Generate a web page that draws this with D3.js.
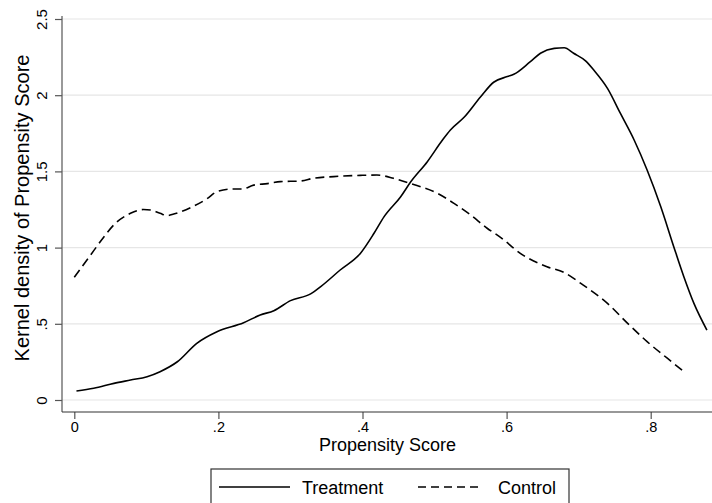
<!DOCTYPE html>
<html>
<head>
<meta charset="utf-8">
<script src="https://cdn.jsdelivr.net/npm/d3@7"></script>
<style>
  html, body { margin: 0; padding: 0; background: #fff; }
  svg { display: block; font-family: "Liberation Sans", Arial, sans-serif; }
</style>
</head>
<body>
<svg id="chart" width="712" height="503"></svg>
<script>
// ---- data ----
const treatX = [0.003,0.027,0.055,0.078,0.101,0.119,0.143,0.170,0.198,0.235,0.258,0.277,0.300,0.328,0.342,0.369,0.397,0.416,0.430,0.453,0.467,0.490,0.511,0.522,0.541,0.564,0.582,0.601,0.610,0.633,0.647,0.666,0.680,0.693,0.710,0.721,0.740,0.758,0.777,0.795,0.814,0.832,0.846,0.860,0.878];
const treatY = [0.059,0.077,0.109,0.131,0.153,0.186,0.251,0.372,0.448,0.507,0.558,0.586,0.652,0.696,0.744,0.853,0.962,1.094,1.203,1.334,1.432,1.564,1.706,1.772,1.855,1.990,2.085,2.122,2.137,2.220,2.275,2.307,2.311,2.275,2.224,2.165,2.045,1.880,1.706,1.509,1.268,1.006,0.809,0.634,0.459];
const ctrlX = [0.000,0.027,0.041,0.055,0.078,0.096,0.106,0.119,0.129,0.138,0.166,0.184,0.198,0.221,0.233,0.249,0.268,0.286,0.314,0.332,0.360,0.397,0.420,0.443,0.467,0.504,0.527,0.550,0.573,0.592,0.619,0.656,0.680,0.703,0.740,0.768,0.795,0.823,0.845];
const ctrlY = [0.805,0.980,1.070,1.150,1.225,1.250,1.247,1.225,1.210,1.220,1.273,1.320,1.367,1.385,1.385,1.410,1.420,1.433,1.437,1.455,1.466,1.474,1.476,1.455,1.420,1.356,1.290,1.214,1.127,1.066,0.962,0.875,0.836,0.765,0.634,0.503,0.383,0.274,0.190];
const xTicks = [0, 0.2, 0.4, 0.6, 0.8];
const xTickLabels = ["0", ".2", ".4", ".6", ".8"];
const yTicks = [0, 0.5, 1, 1.5, 2, 2.5];
const yTickLabels = ["0", ".5", "1", "1.5", "2", "2.5"];
const seriesNames = ["Treatment", "Control"];
const xTitle = "Propensity Score";
const yTitle = "Kernel density of Propensity Score";

// ---- layout ----
const plotLeft = 62, plotRight = 713, plotTop = 16, plotBottom = 412;
const svg = d3.select("#chart");

const x = d3.scaleLinear().domain([0, 0.8]).range([74.3, 650.7]);
const y = d3.scaleLinear().domain([0, 2.5]).range([400, 19]);

// gridlines
svg.append("g").selectAll("line").data(yTicks).join("line")
  .attr("x1", plotLeft).attr("x2", plotRight)
  .attr("y1", d => y(d)).attr("y2", d => y(d))
  .attr("stroke", "#e6e6e6").attr("stroke-width", 1.2);

// y axis
const yAxis = d3.axisLeft(y).tickValues(yTicks)
  .tickFormat((d, i) => yTickLabels[i]).tickSize(7).tickSizeOuter(0);
const gy = svg.append("g").attr("transform", `translate(${plotLeft},0)`).call(yAxis);
gy.select(".domain").remove();
gy.append("line").attr("x1", 0).attr("x2", 0).attr("y1", plotTop).attr("y2", plotBottom)
  .attr("stroke", "#555").attr("stroke-width", 1.2);
gy.selectAll(".tick line").attr("stroke", "#555").attr("stroke-width", 1.2);
gy.selectAll(".tick text")
  .attr("font-size", 15).attr("fill", "#000")
  .attr("text-anchor", "middle")
  .attr("transform", "rotate(-90)")
  .attr("x", 0).attr("dy", 0)
  .attr("y", -15);

// x axis
const xAxis = d3.axisBottom(x).tickValues(xTicks)
  .tickFormat((d, i) => xTickLabels[i]).tickSize(7).tickSizeOuter(0);
const gx = svg.append("g").attr("transform", `translate(0,${plotBottom})`).call(xAxis);
gx.select(".domain").remove();
gx.append("line").attr("x1", plotLeft).attr("x2", plotRight).attr("y1", 0).attr("y2", 0)
  .attr("stroke", "#333").attr("stroke-width", 1.2);
gx.selectAll(".tick line").attr("stroke", "#555").attr("stroke-width", 1.2);
gx.selectAll(".tick text").attr("font-size", 14.5).attr("fill", "#000").attr("y", 19.5).attr("dy", 0);

// titles
svg.append("text").attr("x", (plotLeft + plotRight) / 2).attr("y", 451)
  .attr("text-anchor", "middle").attr("font-size", 18).attr("fill", "#000").text(xTitle);
svg.append("text").attr("transform", `translate(29,208) rotate(-90)`)
  .attr("text-anchor", "middle").attr("font-size", 20).attr("fill", "#000").text(yTitle);

// lines
const line = d3.line().x(d => x(d[0])).y(d => y(d[1])).curve(d3.curveMonotoneX);
const treat = treatX.map((v, i) => [v, treatY[i]]);
const ctrl = ctrlX.map((v, i) => [v, ctrlY[i]]);
svg.append("path").datum(ctrl).attr("d", line).attr("fill", "none")
  .attr("stroke", "#000").attr("stroke-width", 1.6).attr("stroke-dasharray", "9,5");
svg.append("path").datum(treat).attr("d", line).attr("fill", "none")
  .attr("stroke", "#000").attr("stroke-width", 1.6);

// legend
const lg = svg.append("g");
lg.append("rect").attr("x", 211).attr("y", 469).attr("width", 358).attr("height", 50)
  .attr("fill", "#fff").attr("stroke", "#333").attr("stroke-width", 1.2);
lg.append("line").attr("x1", 219).attr("x2", 290).attr("y1", 487).attr("y2", 487)
  .attr("stroke", "#000").attr("stroke-width", 1.6);
lg.append("text").attr("x", 302).attr("y", 493.5).attr("font-size", 18).attr("fill", "#000").text(seriesNames[0]);
lg.append("line").attr("x1", 418).attr("x2", 478).attr("y1", 487).attr("y2", 487)
  .attr("stroke", "#000").attr("stroke-width", 1.6).attr("stroke-dasharray", "8,5");
lg.append("text").attr("x", 498).attr("y", 493.5).attr("font-size", 18).attr("fill", "#000").text(seriesNames[1]);
</script>
</body>
</html>
